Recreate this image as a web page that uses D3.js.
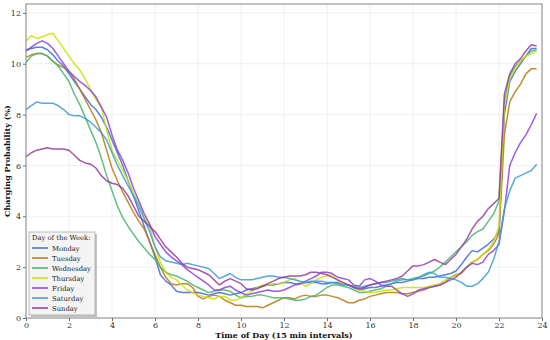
<!DOCTYPE html>
<html>
<head>
<meta charset="utf-8">
<script src="https://cdn.jsdelivr.net/npm/d3@7"></script>
<style>
  body { margin: 0; background: #fff; }
  text { font-family: "DejaVu Serif", serif; }
</style>
</head>
<body>
<div id="chart"></div>
<script>
const sketchId = "chart";

// 15 min slots, 96 per day
const times = d3.range(0, 24, 0.25);

const days = ["Monday", "Tuesday", "Wednesday", "Thursday", "Friday", "Saturday", "Sunday"];
const dayColors = ["#3f68e0", "#b57a12", "#46b46e", "#cde000", "#8a3fe0", "#3a9ad9", "#953a9c"];

const xTicks = [0, 2, 4, 6, 8, 10, 12, 14, 16, 18, 20, 22, 24];
const yTicks = [0, 2, 4, 6, 8, 10, 12];

const monday = [
  10.55, 10.6, 10.65, 10.65, 10.55, 10.35, 10.1, 9.9,
  9.6, 9.3, 9.0, 8.7, 8.4, 8.2, 7.9, 7.5,
  7.0, 6.5, 6.0, 5.4, 4.8, 4.2, 3.6, 3.0,
  2.4, 1.7, 1.45, 1.3, 1.05, 1.0, 1.0, 1.0,
  1.0, 0.95, 0.9, 0.95, 1.0, 0.95, 0.9, 0.95,
  1.0, 1.1, 1.15, 1.2, 1.25, 1.3, 1.3, 1.35,
  1.4, 1.4, 1.35, 1.35, 1.4, 1.4, 1.4, 1.35,
  1.35, 1.4, 1.4, 1.35, 1.3, 1.2, 1.1, 1.15,
  1.2, 1.2, 1.25, 1.3, 1.35, 1.4, 1.4, 1.45,
  1.5, 1.55, 1.55, 1.6, 1.6, 1.65, 1.7, 1.75,
  1.85, 2.1, 2.4, 2.65, 2.6, 2.75, 2.9, 3.1,
  3.4, 8.0, 9.3, 9.7, 10.0, 10.3, 10.6, 10.6
];
const tuesday = [
  10.25, 10.35, 10.4, 10.4, 10.3, 10.1, 9.95, 9.85,
  9.7, 9.4, 9.0, 8.6, 8.2, 7.8, 7.3, 6.6,
  5.9, 5.4, 4.95, 4.55, 4.15, 3.8, 3.5, 3.0,
  2.5, 2.0, 1.6, 1.35, 1.3, 1.35, 1.35, 1.2,
  0.85, 0.75, 0.85, 0.9, 0.85, 0.7, 0.6, 0.5,
  0.5, 0.45, 0.45, 0.45, 0.4, 0.5, 0.6, 0.7,
  0.8, 0.8, 0.75, 0.85, 0.9, 0.85, 0.85, 0.9,
  0.9, 0.85, 0.8, 0.7, 0.6, 0.6, 0.7, 0.75,
  0.85, 0.9, 0.95, 1.0, 1.0, 1.0, 0.95, 0.95,
  1.0, 1.05, 1.1, 1.2, 1.25, 1.3, 1.4, 1.6,
  1.7, 1.75, 2.0, 2.2, 2.3, 2.5, 2.65, 2.9,
  3.3, 7.2, 8.5, 8.9, 9.2, 9.6, 9.8, 9.8
];
const wednesday = [
  10.05, 10.3, 10.4, 10.4, 10.3, 10.1, 9.9, 9.6,
  9.3, 8.8, 8.4, 7.9, 7.4, 6.9, 6.3, 5.6,
  5.0, 4.4, 3.95, 3.6, 3.3, 3.0, 2.75, 2.5,
  2.3, 2.0, 1.8, 1.7, 1.65, 1.55, 1.45, 1.3,
  1.2, 1.1, 1.0, 1.05, 1.1, 1.1, 1.05, 0.9,
  0.8, 0.85, 0.85, 0.9, 0.9, 0.85, 0.8, 0.8,
  0.8, 0.75, 0.7, 0.7, 0.75, 0.85, 0.9, 1.05,
  1.2, 1.3, 1.3, 1.25, 1.2, 1.1, 1.0, 1.0,
  1.05, 1.1, 1.15, 1.25, 1.35, 1.45, 1.5, 1.5,
  1.55, 1.6, 1.65, 1.75, 1.85, 2.0, 2.2, 2.4,
  2.6, 2.8, 3.0, 3.25, 3.4, 3.5, 3.8, 4.1,
  4.6, 8.5, 9.5, 9.9, 10.1, 10.3, 10.5, 10.55
];
const thursday = [
  10.9, 11.1, 11.0, 11.05, 11.15, 11.2, 10.9, 10.6,
  10.3, 10.0, 9.75, 9.4, 9.0, 8.6, 8.3, 7.4,
  6.6, 6.2, 5.8, 5.4, 4.9, 4.5, 4.0, 3.6,
  2.8, 2.2, 1.8, 1.6, 1.5, 1.3, 1.1, 1.0,
  0.9, 0.85, 0.8, 0.75, 0.85, 0.85, 0.7, 0.7,
  0.8, 0.95, 1.05, 1.2, 1.3, 1.3, 1.35, 1.35,
  1.4, 1.5, 1.55, 1.4, 1.25, 1.35, 1.5, 1.6,
  1.65, 1.7, 1.45, 1.35, 1.3, 1.25, 1.1, 1.05,
  1.0, 1.0, 1.05, 1.1, 1.1, 1.15, 1.2, 1.2,
  1.2, 1.2, 1.2, 1.25, 1.3, 1.35, 1.5, 1.6,
  1.65, 1.8, 2.0, 2.2, 2.3, 2.5, 2.7, 3.0,
  3.6, 8.3, 9.4, 9.8, 10.1, 10.3, 10.4, 10.5
];
const friday = [
  10.5, 10.65, 10.8, 10.9, 10.8, 10.6, 10.3, 10.0,
  9.7, 9.5, 9.3, 9.15, 8.95, 8.7, 8.3, 7.9,
  7.2, 6.6, 6.2, 5.7, 5.1, 4.6, 4.1, 3.7,
  3.2, 2.9, 2.6, 2.4, 2.25, 2.1, 1.9, 1.75,
  1.6, 1.45, 1.3, 1.1, 1.1, 1.2, 1.25, 1.1,
  1.0, 0.9, 0.95, 1.0, 1.05, 1.1, 1.05, 1.05,
  1.1, 1.2, 1.3, 1.35, 1.45, 1.55, 1.65, 1.8,
  1.8, 1.75, 1.6, 1.55, 1.5, 1.3, 1.25, 1.5,
  1.55, 1.45, 1.3, 1.25, 1.25, 1.1, 0.95, 0.85,
  0.95, 1.1, 1.15, 1.2, 1.25, 1.3, 1.4, 1.5,
  1.6, 1.8, 2.0, 2.15, 2.1, 2.2, 2.5, 2.65,
  2.9, 4.2, 6.0, 6.5, 6.9, 7.2, 7.6, 8.05
];
const saturday = [
  8.2, 8.35, 8.5, 8.45, 8.45, 8.45, 8.35, 8.2,
  8.0, 7.95, 7.95, 7.85, 7.7, 7.5, 7.3, 7.0,
  6.5, 6.0, 5.6, 5.2, 4.8, 4.4, 3.9, 3.4,
  2.8, 2.4, 2.25, 2.2, 2.15, 2.1, 2.15, 2.1,
  2.05, 2.0, 1.95, 1.75, 1.55, 1.65, 1.75, 1.6,
  1.5, 1.5, 1.5, 1.55, 1.6, 1.65, 1.65, 1.6,
  1.6, 1.55, 1.5, 1.45, 1.4, 1.45, 1.45, 1.45,
  1.4, 1.4, 1.35, 1.3, 1.3, 1.25, 1.2, 1.25,
  1.3, 1.35, 1.4, 1.4, 1.45, 1.5, 1.55, 1.5,
  1.5, 1.6, 1.7, 1.8, 1.75, 1.6, 1.6, 1.55,
  1.5, 1.4, 1.25, 1.25, 1.35, 1.55, 1.8, 2.3,
  3.0, 4.3, 5.0, 5.5, 5.6, 5.7, 5.8, 6.05
];
const sunday = [
  6.35, 6.5, 6.6, 6.65, 6.7, 6.65, 6.65, 6.65,
  6.6, 6.4, 6.2, 6.1, 6.05, 5.9, 5.6, 5.4,
  5.3, 5.25, 5.1, 4.8, 4.4, 4.0, 3.8, 3.6,
  3.4, 3.1, 2.8, 2.6, 2.4, 2.15, 2.0, 1.95,
  1.9, 1.8, 1.7, 1.5, 1.3, 1.45, 1.55, 1.45,
  1.35, 1.15, 1.1, 1.15, 1.25, 1.35, 1.45, 1.55,
  1.6, 1.65, 1.65, 1.65, 1.7, 1.8, 1.8, 1.75,
  1.7, 1.6, 1.5, 1.4, 1.3, 1.2, 1.15, 1.2,
  1.3, 1.35, 1.4, 1.45, 1.5, 1.55, 1.65, 1.85,
  2.05, 2.05, 2.1, 2.2, 2.3, 2.2, 2.1, 2.3,
  2.5, 2.8, 3.1, 3.5, 3.8, 4.0, 4.3, 4.5,
  4.7, 8.8, 9.6, 10.0, 10.2, 10.5, 10.75, 10.7
];
const seriesValues = [monday, tuesday, wednesday, thursday, friday, saturday, sunday];

function drawChart(containerId = sketchId) {
    const width = 550, height = 340;
    const left = 26, right = 542, top = 4, bottom = 318;

    const svg = d3.select(`#${containerId}`).append("svg")
        .attr("width", width)
        .attr("height", height);

    const x = d3.scaleLinear().domain([0, 24]).range([left, right]);
    const y = d3.scaleLinear().domain([0, 12.35]).range([bottom, top]);

    // grid
    const grid = svg.append("g");
    grid.selectAll("line.gx").data(xTicks).enter().append("line")
        .attr("x1", d => x(d)).attr("x2", d => x(d))
        .attr("y1", top).attr("y2", bottom)
        .attr("stroke", "#ececec").attr("stroke-width", 0.8);
    grid.selectAll("line.gy").data(yTicks).enter().append("line")
        .attr("x1", left).attr("x2", right)
        .attr("y1", d => y(d)).attr("y2", d => y(d))
        .attr("stroke", "#ececec").attr("stroke-width", 0.8);

    // lines
    const line = d3.line()
        .x((d, i) => x(times[i]))
        .y(d => y(d));
    svg.append("g").selectAll("path")
        .data(seriesValues)
        .enter().append("path")
        .attr("d", line)
        .attr("fill", "none")
        .attr("stroke", (d, i) => dayColors[i])
        .attr("stroke-width", 1.5)
        .attr("stroke-opacity", 0.85)
        .attr("stroke-linejoin", "round");

    // axes
    const xAxis = svg.append("g")
        .attr("transform", `translate(0,${bottom})`)
        .call(d3.axisBottom(x).tickValues(xTicks).tickSize(3).tickPadding(1.5));
    const yAxis = svg.append("g")
        .attr("transform", `translate(${left},0)`)
        .call(d3.axisLeft(y).tickValues(yTicks).tickSize(3).tickPadding(2));
    [xAxis, yAxis].forEach(a => {
        a.select(".domain").remove();
        a.selectAll(".tick line").attr("stroke", "#444").attr("stroke-width", 0.8);
        a.selectAll(".tick text")
            .attr("font-family", "DejaVu Serif")
            .attr("font-size", 8)
            .attr("fill", "#333");
    });

    // frame
    svg.append("rect")
        .attr("x", left).attr("y", top)
        .attr("width", right - left).attr("height", bottom - top)
        .attr("fill", "none")
        .attr("stroke", "#888")
        .attr("stroke-width", 1);

    // axis titles
    svg.append("text")
        .attr("x", (left + right) / 2).attr("y", 338)
        .attr("text-anchor", "middle")
        .attr("font-size", 8).attr("font-weight", "bold")
        .attr("fill", "#111")
        .text("Time of Day (15 min intervals)");
    svg.append("text")
        .attr("transform", `translate(10,${(top + bottom) / 2}) rotate(-90)`)
        .attr("text-anchor", "middle")
        .attr("font-size", 8).attr("font-weight", "bold")
        .attr("fill", "#111")
        .text("Charging Probability (%)");

    // legend
    const lg = svg.append("g").attr("transform", "translate(29,232)");
    lg.append("rect")
        .attr("x", 2).attr("y", 2).attr("width", 66).attr("height", 83)
        .attr("fill", "#888").attr("fill-opacity", 0.5);
    lg.append("rect")
        .attr("width", 66).attr("height", 83)
        .attr("fill", "#f4f4f4")
        .attr("stroke", "#aaa").attr("stroke-width", 0.8);
    lg.append("text")
        .attr("x", 3).attr("y", 8)
        .attr("font-size", 6.8).attr("fill", "#222")
        .text("Day of the Week:");
    const item = lg.selectAll("g.item").data(days).enter().append("g")
        .attr("transform", (d, i) => `translate(0,${16 + i * 10})`);
    item.append("line")
        .attr("x1", 3).attr("x2", 19)
        .attr("stroke", (d, i) => dayColors[i])
        .attr("stroke-width", 1.5);
    item.append("text")
        .attr("x", 23).attr("y", 2.5)
        .attr("font-size", 6.8).attr("fill", "#222")
        .text(d => d);
}

document.addEventListener('DOMContentLoaded', () => {
    drawChart();
});
</script>
</body>
</html>
